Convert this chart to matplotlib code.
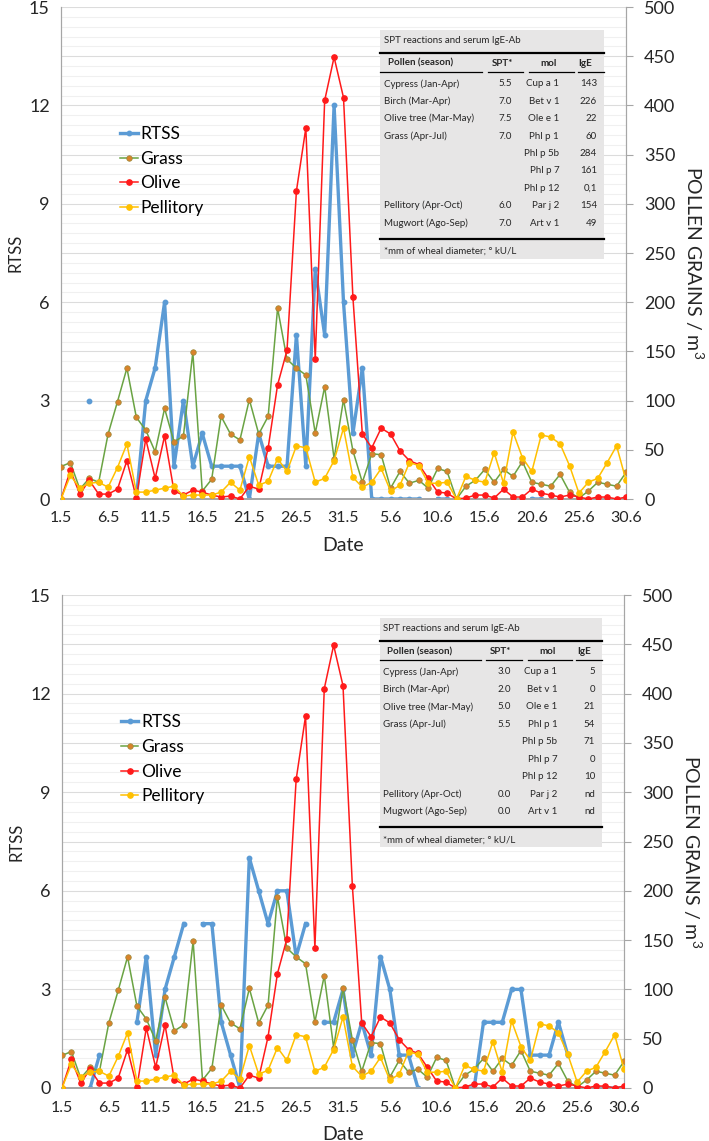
import numpy as np
import matplotlib.pyplot as plt
from matplotlib.lines import Line2D
from matplotlib.patches import Rectangle
from matplotlib.ticker import MultipleLocator, FuncFormatter

plt.rcParams['font.family'] = ['Lato', 'DejaVu Sans']
plt.rcParams['mathtext.fontset'] = 'custom'
plt.rcParams['mathtext.rm'] = 'Lato'

W, H = 709, 1141
nan = np.nan

# 1 May .. 30 June
dates = [f"{d}.5" for d in range(1, 32)] + [f"{d}.6" for d in range(1, 31)]

# pollen grains / m3 (same counts in both panels)
grass = [33, 37, 10, 21, 17, 66, 99, 133, 83, 70, 48, 92, 58, 64, 149, 8, 20, 84, 66, 60,
         101, 66, 84, 194, 142, 133, 126, 67, 114, 41, 101, 49, 17, 46, 45, 11, 28, 16, 19, 11,
         31, 28, 0, 13, 19, 30, 17, 30, 23, 38, 17, 15, 13, 25, 7, 1, 8, 17, 15, 13, 27]
olive = [0, 29, 5, 19, 5, 5, 10, 39, 1, 61, 21, 64, 8, 4, 9, 7, 4, 2, 3, 0,
         13, 10, 52, 116, 151, 313, 377, 142, 405, 449, 408, 205, 66, 52, 72, 66, 49, 39, 35, 21,
         7, 6, 0, 1, 4, 4, 1, 10, 2, 2, 10, 6, 4, 2, 4, 2, 0, 2, 2, 0, 2]
pellitory = [0, 24, 11, 16, 17, 12, 32, 56, 7, 7, 9, 11, 13, 3, 4, 4, 4, 7, 17, 9,
             43, 14, 18, 41, 28, 54, 52, 17, 21, 39, 72, 22, 12, 17, 31, 8, 14, 37, 34, 16,
             16, 17, 0, 23, 19, 17, 47, 16, 68, 42, 28, 65, 63, 56, 34, 6, 17, 21, 37, 54, 19]

# RTSS score, one series per panel
rtss_top = [nan, nan, nan, 3, nan, nan, nan, nan, 0, 3, 4, 6, 1, 3, 1, 2, 1, 1, 1, 1,
            0, 2, 1, 1, 1, 5, 1, 7, 5, 12, 6, 2, 4, 0, 0, 0, 0, 0, 0, nan,
            0, 0, nan, 0, nan, nan, 0, nan, nan, nan, 0, 0, nan, nan, nan, nan, nan, nan, nan, nan, nan]
rtss_bottom = [nan, nan, nan, 0, 1, nan, nan, nan, 2, 4, 1, 3, 4, 5, nan, 5, 5, 2, 1, 0,
               7, 6, 5, 6, 6, 4, 5, nan, 2, 2, 3, 1, 2, 1, 4, 3, 1, 1, 0, nan,
               nan, nan, nan, 0, 0, 2, 2, 2, 3, 3, 1, 1, 1, 2, 1, nan, nan, 0, 0, 0, 0]

# SPT / IgE inset tables
pollen_season = ["Cypress (Jan-Apr)", "Birch (Mar-Apr)", "Olive tree (Mar-May)", "Grass (Apr-Jul)",
                 "", "", "", "Pellitory (Apr-Oct)", "Mugwort (Ago-Sep)"]
allergens = ["Cup a 1", "Bet v 1", "Ole e 1", "Phl p 1", "Phl p 5b", "Phl p 7", "Phl p 12",
             "Par j 2", "Art v 1"]
spt_top = ["5.5", "7.0", "7.5", "7.0", "", "", "", "6.0", "7.0"]
ige_top = ["143", "226", "22", "60", "284", "161", "0,1", "154", "49"]
spt_bottom = ["3.0", "2.0", "5.0", "5.5", "", "", "", "0.0", "0.0"]
ige_bottom = ["5", "0", "21", "54", "71", "0", "10", "nd", "nd"]

BLUE = '#5b9bd5'
GREEN = '#6aa343'
ORANGE = '#d9832b'
RED = '#ff1a1a'
YELLOW = '#ffc000'
AXIS = '#a6a6a6'
TXT = '#262626'


def rect(left, top, right, bottom):
    return [left / W, 1 - bottom / H, (right - left) / W, (bottom - top) / H]


def draw_table(ax2, spt, ige):
    x0, x1 = 33.9, 57.7
    ax2.add_patch(Rectangle((x0, 244), x1 - x0, 233, fc='#e7e6e6', ec='none', zorder=4))
    kw = dict(fontsize=7, color=TXT, va='center', zorder=6)
    ax2.text(34.3, 466, 'SPT reactions and serum IgE-Ab', ha='left', **kw)
    for y in (453.6, 264.6):
        ax2.add_line(Line2D([x0, x1], [y, y], color='black', lw=1.6, zorder=5))
    for a, b in ((33.9, 44.7), (45.3, 49.1), (49.7, 54.5), (54.9, 57.7)):
        ax2.add_line(Line2D([a, b], [433.6, 433.6], color='black', lw=0.9, zorder=5))
    hk = dict(kw, fontweight='bold')
    ax2.text(34.7, 442.7, 'Pollen (season)', ha='left', **hk)
    ax2.text(48.0, 442.7, 'SPT*', ha='right', **hk)
    ax2.text(51.8, 442.7, 'mol', ha='center', **hk)
    ax2.text(55.7, 442.7, 'IgE', ha='center', **hk)
    for i, (p, s, m, g) in enumerate(zip(pollen_season, spt, allergens, ige)):
        y = 422 - 17.7 * i
        ax2.text(34.3, y, p, ha='left', **kw)
        ax2.text(47.9, y, s, ha='right', **kw)
        ax2.text(52.9, y, m, ha='right', **kw)
        ax2.text(56.9, y, g, ha='right', **kw)
    ax2.text(34.3, 251.8, '*mm of wheal diameter; \u00b0 kU/L', ha='left', **kw)


def draw_panel(fig, box, rtss, spt, ige):
    ax = fig.add_axes(rect(*box))
    ax2 = ax.twinx()
    x = np.arange(len(dates))

    ax.set_xlim(0, len(dates) - 1)
    ax.set_ylim(0, 15)
    ax2.set_ylim(0, 500)

    ax.yaxis.set_major_locator(MultipleLocator(1.5))
    ax.yaxis.set_minor_locator(MultipleLocator(0.3))
    ax.yaxis.set_major_formatter(FuncFormatter(
        lambda v, p: f"{v:g}" if abs(v / 3 - round(v / 3)) < 1e-6 else ''))
    ax.grid(which='major', axis='y', color='#dcdcdc', lw=0.8)
    ax.grid(which='minor', axis='y', color='#f0f0f0', lw=0.8)
    ax.set_axisbelow(True)
    ax.tick_params(axis='y', which='both', length=0, labelsize=13, pad=8, labelcolor=TXT)

    ax.set_xticks(x[::5])
    ax.set_xticklabels(dates[::5])
    ax.tick_params(axis='x', length=0, labelsize=11.5, pad=9, labelcolor=TXT)

    ax2.yaxis.set_major_locator(MultipleLocator(50))
    ax2.tick_params(axis='y', direction='out', length=5, color=AXIS, labelsize=13,
                    pad=8, labelcolor=TXT)

    for a in (ax, ax2):
        a.spines['top'].set_visible(False)
        a.spines['left'].set_color(AXIS)
        a.spines['right'].set_color(AXIS)
        a.spines['bottom'].set_color(AXIS)
        a.spines['bottom'].set_linewidth(1.3)

    ax.plot(x, rtss, color=BLUE, lw=2.4, marker='o', ms=3.2, zorder=3)
    ax2.plot(x, grass, color=GREEN, lw=1.1, marker='o', ms=4, mfc=ORANGE, mec='#9a8a3a',
             mew=0.5, zorder=3)
    ax2.plot(x, olive, color=RED, lw=1.1, marker='o', ms=3.8, zorder=3)
    ax2.plot(x, pellitory, color=YELLOW, lw=1.1, marker='o', ms=3.8, zorder=3)

    handles = [
        Line2D([], [], color=BLUE, lw=2.4, marker='o', ms=3.2),
        Line2D([], [], color=GREEN, lw=1.1, marker='o', ms=4, mfc=ORANGE, mec='#9a8a3a', mew=0.5),
        Line2D([], [], color=RED, lw=1.1, marker='o', ms=3.8),
        Line2D([], [], color=YELLOW, lw=1.1, marker='o', ms=3.8),
    ]
    ax2.legend(handles, ['RTSS', 'Grass', 'Olive', 'Pellitory'], loc='center left',
               bbox_to_anchor=(6.3, 10.0), bbox_transform=ax.transData, frameon=False,
               fontsize=12.5, handlelength=1.0, handletextpad=0.15, labelspacing=0.5,
               borderpad=0, borderaxespad=0)

    draw_table(ax2, spt, ige)

    ax.text(-0.081, 0.5, 'RTSS', transform=ax.transAxes, rotation=90, ha='center',
            va='center', fontsize=12, color=TXT)
    ax.text(1.122, 0.48, 'POLLEN GRAINS / m$^3$', transform=ax.transAxes, rotation=270,
            ha='center', va='center', fontsize=14, color=TXT)
    ax.text(0.5, -0.094, 'Date', transform=ax.transAxes, ha='center', va='center',
            fontsize=14, color=TXT)


def main():
    fig = plt.figure(figsize=(W / 100, H / 100), dpi=100)
    draw_panel(fig, (61, 7, 626, 499), rtss_top, spt_top, ige_top)
    draw_panel(fig, (62, 595, 624, 1088), rtss_bottom, spt_bottom, ige_bottom)
    fig.savefig('out.png', dpi=100)


if __name__ == '__main__':
    main()
